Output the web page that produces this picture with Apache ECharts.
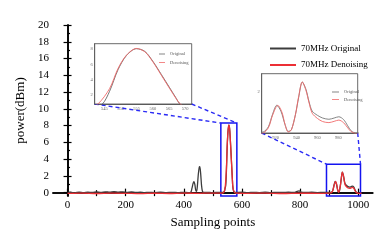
<!DOCTYPE html>
<html>
<head>
<meta charset="utf-8">
<script src="https://cdn.jsdelivr.net/npm/echarts@6/dist/echarts.min.js"></script>
<style>html,body{margin:0;padding:0;background:#fff;}#c{width:392px;height:248px;}</style>
</head>
<body>
<div id="c"></div>
<script>
// ---- data ----
const origX = [0,10,25,40,55,70,85,100,115,130,145,160,175,190,205,220,235,250,265,280,300,320,340,360,380,400,415,424,428,432,435,438,441,444,447,450,453,455,458,461,464,468,480,500,520,535,540,542,544.4,546.6,549.2,551.8,554.9,557.5,560,562.6,565.2,567.2,568.3,570,573,578,600,620,640,660,680,700,720,740,760,780,790,797,804,820,840,860,880,900,908,913,917,921,925,929,932,935,939,942,945.5,949,952,955,960,965,971,976,980.5,985,989,992,995,1000];
const origY = [0.02,0.05,-0.02,0.06,0,0.05,0.02,0.08,0.03,0.1,0.05,0.12,0.06,0.1,0.04,0.08,0.02,0.05,0,0.04,0.01,0.05,0,0.03,0,0.04,0,0.05,0.5,1.1,1.3,1.0,0.3,0.15,0.9,2.2,3.0,3.1,2.3,0.9,0.2,0.02,0.04,0,0.03,0.02,0.2,0.5,0.85,2.5,5.3,7.15,8.05,7.7,6.4,4.7,2.95,1.6,0.85,0.35,0.1,0.02,0.05,0,0.04,0.01,0.05,0,0.04,0.02,0.05,0.02,0.15,0.2,0.05,0.02,0.05,0.01,0.04,0.02,0.05,0.3,0.9,1.33,1.05,0.4,0.08,0.15,0.9,1.7,2.45,2.1,1.5,1.05,0.85,0.72,0.66,0.72,0.78,0.65,0.35,0.12,0.02,0];
const denX = [0,50,100,150,200,250,300,350,400,450,500,530,537,540,543,546.6,549.2,551.8,554.9,557.5,560,562.6,565.2,567.2,568.5,571,575,580,620,680,740,800,860,900,908,913,917,922,926,929,932,935,939,942,945.5,949,952,955,960,965,971,976,980.5,985,989,992,996,1002,1012];
const denY = [-0.08,-0.05,-0.1,-0.06,-0.08,-0.12,-0.07,-0.1,-0.06,-0.08,-0.05,-0.06,0.02,0.25,0.85,2.85,5.46,7.2,8.08,7.65,6.34,4.6,2.85,1.54,0.85,0.3,0,-0.06,-0.08,-0.05,-0.1,-0.06,-0.08,-0.05,0,0.25,0.85,1.33,1.0,0.4,0.05,0.15,0.9,1.75,2.45,2.05,1.45,0.95,0.7,0.55,0.5,0.56,0.62,0.5,0.25,0.08,-0.02,-0.08,-0.05];
const xTicks = [0,200,400,600,800,1000];
const xMinor = [100,300,500,700,900];
const yTicks = [0,2,4,6,8,10,12,14,16,18,20];
const yMinor = [1,3,5,7,9,11,13,15,17,19];
const inset1XTicks = [545,550,555,560,565,570];
const inset1YTicks = [2,4,6,8];
const inset2XTicks = [920,940,960,980];
const inset2YTicks = [2];
const zoomBoxes = [[527.5,582.6,8.3],[891,1008,3.4]];

const pairs = (xs, ys) => xs.map((x,i) => [x, ys[i]]);
const orig = pairs(origX, origY);
const den = pairs(denX, denY);

const FONT = 'Liberation Serif';
const G0 = {left:53, top:25, width:319.7, height:171};
const G1 = {left:94.7, top:43.7, width:97, height:60.3};
const G2 = {left:261.7, top:73.7, width:96, height:59.3};
const plain = v => String(v);

const chart = echarts.init(document.getElementById('c'), null, {renderer:'canvas'});

function mainAxisLine(show){ return {show:show, lineStyle:{color:'#000', width:1.6}}; }
function tick(vals, len, show){ return {show:show!==false, inside:true, length:len, customValues:vals, lineStyle:{color:'#000', width:1.2}}; }
function insetAxis(grid, min, max, vals){
  return {type:'value', gridIndex:grid, min:min, max:max, splitLine:{show:false},
    axisLine:{show:true, lineStyle:{color:'#444', width:0.8}},
    axisTick:{inside:true, length:2, customValues:vals, lineStyle:{color:'#444', width:0.6}},
    axisLabel:{customValues:vals, formatter:plain, fontSize:4.5, color:'#666', margin:2, fontFamily:FONT}};
}

const option = {
  animation:false,
  backgroundColor:'#fff',
  textStyle:{fontFamily:FONT},
  grid:[
    Object.assign({}, G0, {containLabel:false}),
    Object.assign({}, G1, {show:true, backgroundColor:'#fff', borderColor:'#444', borderWidth:0.8, z:5}),
    Object.assign({}, G2, {show:true, backgroundColor:'#fff', borderColor:'#444', borderWidth:0.8, z:5})
  ],
  xAxis:[
    {type:'value', gridIndex:0, min:-50, max:1050, position:'bottom', splitLine:{show:false},
     axisLine:mainAxisLine(true), axisTick:tick(xTicks,4),
     axisLabel:{customValues:xTicks, formatter:plain, fontSize:11, color:'#000', margin:4, fontFamily:FONT},
     name:'Sampling points', nameLocation:'middle', nameGap:18,
     nameTextStyle:{fontSize:13, color:'#000', fontFamily:FONT}},
    {type:'value', gridIndex:0, min:-50, max:1050, position:'bottom', splitLine:{show:false},
     axisLine:{show:false}, axisTick:tick(xMinor,2.5), axisLabel:{show:false}},
    {type:'value', gridIndex:0, min:-50, max:1050, position:'top', splitLine:{show:false},
     axisLine:mainAxisLine(true), axisTick:tick(xTicks.concat(xMinor),3.5), axisLabel:{show:false}},
    insetAxis(1, 542, 572, inset1XTicks),
    insetAxis(2, 906.6, 998.6, inset2XTicks)
  ],
  yAxis:[
    {type:'value', gridIndex:0, min:-0.4, max:20, position:'left', splitLine:{show:false},
     axisLine:mainAxisLine(true), axisTick:tick(yTicks,4),
     axisLabel:{customValues:yTicks, formatter:plain, fontSize:11, color:'#000', margin:4, fontFamily:FONT},
     name:'power(dBm)', nameLocation:'middle', nameGap:17, nameRotate:90,
     nameTextStyle:{fontSize:13, color:'#000', fontFamily:FONT}},
    {type:'value', gridIndex:0, min:-0.4, max:20, position:'left', splitLine:{show:false},
     axisLine:{show:false}, axisTick:tick(yMinor,2.5), axisLabel:{show:false}},
    {type:'value', gridIndex:0, min:-0.4, max:20, position:'right', splitLine:{show:false},
     axisLine:mainAxisLine(true), axisTick:tick(yTicks,4), axisLabel:{show:false}},
    insetAxis(1, 0.85, 8.7, inset1YTicks),
    insetAxis(2, 0, 2.85, inset2YTicks)
  ],
  legend:[
    {orient:'vertical', left:265, top:39, itemWidth:26, itemHeight:2, itemGap:7.5, icon:'rect',
     data:['70MHz Original','70MHz Denoising'],
     textStyle:{fontSize:9, color:'#000', fontFamily:FONT}},
    {orient:'vertical', left:154, top:46.5, itemWidth:6, itemHeight:0.8, itemGap:3.5, icon:'rect',
     data:['Original','Denoising'], textStyle:{fontSize:4.5, color:'#555', fontFamily:FONT}, z:10},
    {orient:'vertical', left:327, top:84.5, itemWidth:7, itemHeight:0.8, itemGap:2.5, icon:'rect',
     data:['Original','Denoising'], textStyle:{fontSize:4.5, color:'#555', fontFamily:FONT}, z:10}
  ],
  series:[
    {name:'70MHz Original', type:'line', xAxisIndex:0, yAxisIndex:0, data:orig, showSymbol:false, symbol:'none',
     smooth:0.3, lineStyle:{color:'#3c3c3c', width:1.3}, itemStyle:{color:'#3c3c3c'}, z:2},
    {name:'70MHz Denoising', type:'line', xAxisIndex:0, yAxisIndex:0, data:den, showSymbol:false, symbol:'none',
     smooth:0.3, lineStyle:{color:'#ec2f35', width:1.3}, itemStyle:{color:'#ec2f35'}, z:3,
     markArea:{silent:true, itemStyle:{color:'rgba(0,0,0,0)', borderColor:'#1414f0', borderWidth:1.5},
       data: zoomBoxes.map(b => [{coord:[b[0], -0.4]}, {coord:[b[1], b[2]]}])}},
    {name:'Original', type:'line', xAxisIndex:3, yAxisIndex:3, data:orig, showSymbol:false, symbol:'none',
     smooth:0.3, clip:true, lineStyle:{color:'#666', width:0.9}, itemStyle:{color:'#666'}, z:6},
    {name:'Denoising', type:'line', xAxisIndex:3, yAxisIndex:3, data:den, showSymbol:false, symbol:'none',
     smooth:0.3, clip:true, lineStyle:{color:'#f06a6a', width:0.9}, itemStyle:{color:'#f06a6a'}, z:7},
    {name:'Original', type:'line', xAxisIndex:4, yAxisIndex:4, data:orig, showSymbol:false, symbol:'none',
     smooth:0.3, clip:true, lineStyle:{color:'#777', width:0.9}, itemStyle:{color:'#777'}, z:6},
    {name:'Denoising', type:'line', xAxisIndex:4, yAxisIndex:4, data:den, showSymbol:false, symbol:'none',
     smooth:0.3, clip:true, lineStyle:{color:'#f06a6a', width:0.9}, itemStyle:{color:'#f06a6a'}, z:7}
  ]
};
chart.setOption(option);

// dashed connectors from each inset to its zoom box
const insets = [G1, G2];
const elements = [];
zoomBoxes.forEach((b, i) => {
  const g = insets[i];
  const tl = chart.convertToPixel({xAxisIndex:0, yAxisIndex:0}, [b[0], b[2]]);
  const tr = chart.convertToPixel({xAxisIndex:0, yAxisIndex:0}, [b[1], b[2]]);
  const bl = [g.left, g.top + g.height];
  const br = [g.left + g.width, g.top + g.height];
  [[bl, tl], [br, tr]].forEach(([a, c]) => {
    elements.push({type:'line', z:4, silent:true,
      shape:{x1:a[0], y1:a[1], x2:c[0], y2:c[1]},
      style:{stroke:'#2a2af5', lineWidth:1.4, lineDash:[4,3]}});
  });
});
chart.setOption({graphic:{elements:elements}});
</script>
</body>
</html>
